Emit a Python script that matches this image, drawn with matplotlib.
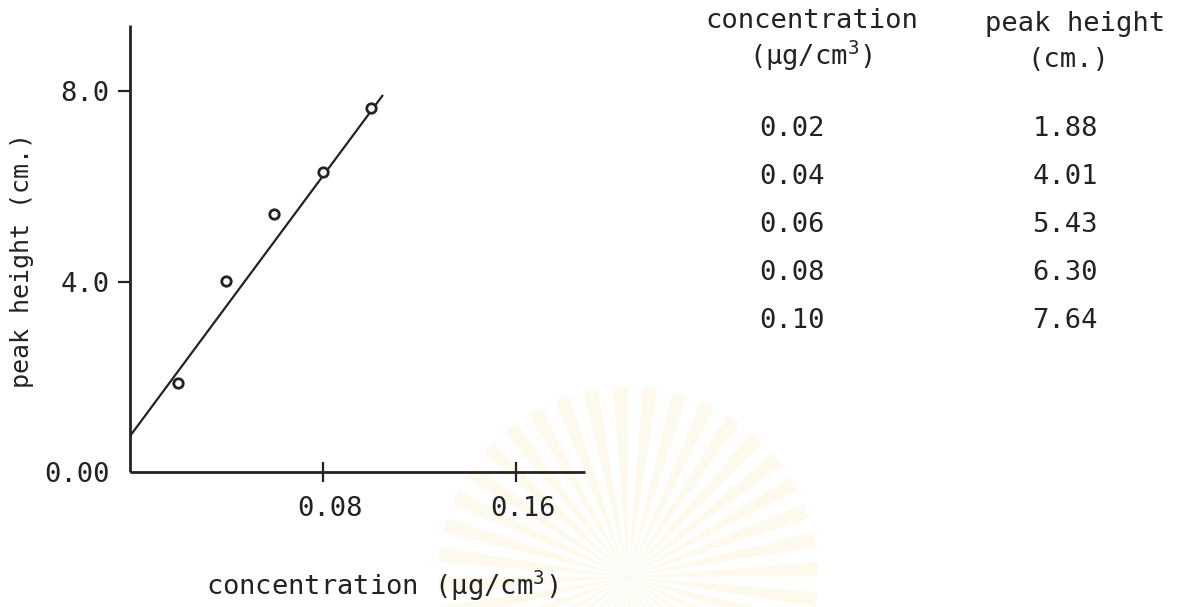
import numpy as np
import matplotlib
matplotlib.use("Agg")
import matplotlib.pyplot as plt
import matplotlib.transforms as mtransforms
from matplotlib.patches import Wedge

# calibration data (concentration in ug/cm3, peak height in cm)
conc = [0.02, 0.04, 0.06, 0.08, 0.10]
peak = [1.88, 4.01, 5.43, 6.30, 7.64]
conc_labels = ["0.02", "0.04", "0.06", "0.08", "0.10"]
peak_labels = ["1.88", "4.01", "5.43", "6.30", "7.64"]

# hand drawn calibration line, end points
line_conc = [0.0, 0.105]
line_peak = [0.74, 7.92]

xticks = [0.08, 0.16]
xtick_labels = ["0.08", "0.16"]
yticks = [0.0, 4.0, 8.0]
ytick_labels = ["0.00", "4.0", "8.0"]

ink = "#232323"
plt.rcParams["font.family"] = ["DejaVu Sans Mono", "DejaVu Sans"]
plt.rcParams["mathtext.fontset"] = "custom"
plt.rcParams["mathtext.rm"] = "DejaVu Sans Mono"
plt.rcParams["text.color"] = ink
fs = 19.5

W, H = 1179, 607
fig = plt.figure(figsize=(W / 100, H / 100), dpi=100)
fig.patch.set_facecolor("white")

# faint sunburst stamp printed on the page, behind everything
for k in range(40):
    a0 = k * 9.0
    fig.patches.append(Wedge((628, 30), 190, a0, a0 + 4.5,
                             transform=None, facecolor="#f6e6b0",
                             edgecolor="none", alpha=0.22, zorder=-5))

# axes placed in pixel terms: origin at (129.5, 472) from the top-left
ox, oy = 129.5, 472
ax = fig.add_axes([ox / W, (H - oy) / H, (585 - ox) / W, (oy - 25) / H])
ax.set_xlim(0, 0.1887)
ax.set_ylim(0, 9.39)
ax.patch.set_alpha(0)

for side in ["top", "right"]:
    ax.spines[side].set_visible(False)
for side in ["left", "bottom"]:
    ax.spines[side].set_linewidth(2.0)
    ax.spines[side].set_color(ink)
    ax.spines[side].set_capstyle("butt")

ax.plot(line_conc, line_peak, color=ink, lw=1.6, solid_capstyle="butt")
ax.plot(conc, peak, linestyle="none", marker="o", ms=6.8, mfc="white",
        mec=ink, mew=2.0, zorder=3)

ax.set_xticks(xticks, labels=xtick_labels)
ax.set_yticks(yticks, labels=ytick_labels)
ax.tick_params(axis="y", direction="out", length=8.5, width=1.6,
               color=ink, labelcolor=ink, labelsize=fs, pad=6)
ax.tick_params(axis="x", direction="inout", length=14, width=1.6,
               color=ink, labelcolor=ink, labelsize=fs, pad=10)
ax.yaxis.get_major_ticks()[0].tick1line.set_visible(False)

# typed tick labels sit a little right of their ticks
shift = mtransforms.ScaledTranslation(7 / 100, 0, fig.dpi_scale_trans)
for lab in ax.get_xticklabels():
    lab.set_transform(lab.get_transform() + shift)


def px(x, y):
    return x / W, 1 - y / H


fig.text(*px(382, 586), r"concentration (µg/cm$^{3}$)", fontsize=fs,
         ha="center", va="center")
fig.text(*px(22, 260), "peak height (cm.)", fontsize=18, rotation=90,
         ha="center", va="center")

# data table on the right
fig.text(*px(812, 21), "concentration", fontsize=fs, ha="center", va="center")
fig.text(*px(811, 56), r"(µg/cm$^{3}$)", fontsize=fs, ha="center", va="center")
fig.text(*px(1075, 24), "peak height", fontsize=fs, ha="center", va="center")
fig.text(*px(1068, 60), "(cm.)", fontsize=fs, ha="center", va="center")

row_y = 129
for c, p in zip(conc_labels, peak_labels):
    fig.text(*px(792, row_y), c, fontsize=fs, ha="center", va="center")
    fig.text(*px(1065, row_y), p, fontsize=fs, ha="center", va="center")
    row_y += 48

fig.savefig("out.png", dpi=100, facecolor="white")
